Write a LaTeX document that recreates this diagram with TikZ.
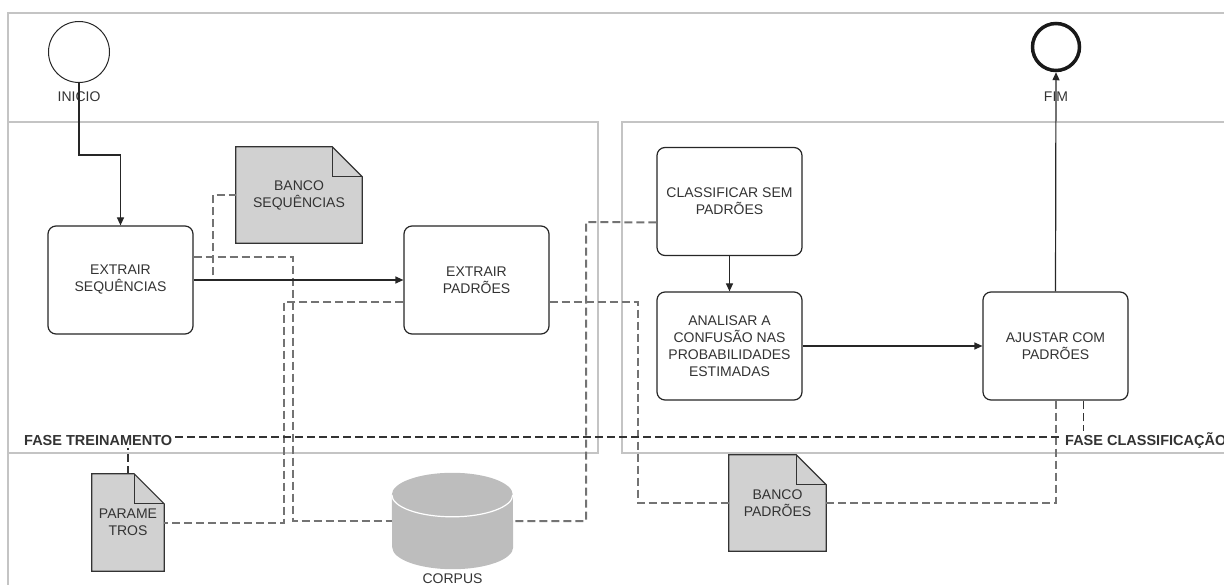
\documentclass[tikz,border=0pt]{standalone}
\usepackage{fontspec}
\setmainfont{Liberation Sans}
\usetikzlibrary{arrows.meta}

\begin{document}
\begin{tikzpicture}[x=1pt, y=-1pt, font=\fontsize{14}{17}\selectfont, text=black!80,
      >={Triangle[length=8pt,width=7pt]},
      lane/.style={draw=black!23, line width=2pt},
      tsk/.style={draw=black!85, line width=1.2pt, fill=white, rounded corners=8pt, align=center, minimum width=145pt, minimum height=108pt, inner sep=2pt},
      doc/.style={fill=black!18, align=center, inner sep=0pt},
      evt/.style={circle, draw=black!85, fill=white, line width=1pt},
      flw/.style={->, draw=black!85, line width=1.2pt},
      assoc/.style={draw=black!55, line width=2pt, dash pattern=on 8pt off 4pt},
      prm/.style={draw=black!80, line width=1.3pt, dash pattern=on 8pt off 4pt},
      phs/.style={fill=white, font=\fontsize{14.5}{17}\selectfont\bfseries, inner sep=2pt, anchor=west}]
    \useasboundingbox (0,0) rectangle (1224,585);
    \draw[lane] (8,585) -- (8,13) -- (1230,13);
    \draw[lane] (8,122) rectangle (598,453);
    \draw[lane] (1230,122) -- (622,122) -- (622,453) -- (1230,453);

    \node[evt, minimum size=61pt] (ini) at (79,52) {};
    \node[evt, minimum size=47pt, line width=3.5pt, draw=black!90] (fim) at (1056,47) {};
    \node (il) at (79,97) {INICIO};
    \node (fl) at (1056,97) {FIM};

    \node[tsk] (es) at (120.5,280) {EXTRAIR\\SEQUÊNCIAS};
    \node[tsk] (ep) at (476.5,280) {EXTRAIR\\PADRÕES};
    \node[tsk] (cs) at (729.5,201.5) {CLASSIFICAR SEM\\PADRÕES};
    \node[tsk] (an) at (729.5,346) {ANALISAR A\\CONFUSÃO NAS\\PROBABILIDADES\\ESTIMADAS};
    \node[tsk] (aj) at (1055.5,346) {AJUSTAR COM\\PADRÕES};

    \node[doc, minimum width=126pt, minimum height=96pt] (bs) at (299,195) {BANCO\\SEQUÊNCIAS};
    \node[doc, minimum width=72pt, minimum height=97pt] (pr) at (128,522.5) {PARAME\\TROS};
    \node[doc, minimum width=97pt, minimum height=96pt] (bp) at (777.5,503) {BANCO\\PADRÕES};
    \foreach \dc in {bs,pr,bp} {
      \fill[white] ([xshift=-30pt]\dc.north east) -- (\dc.north east) -- ([yshift=-30pt]\dc.north east) -- cycle;
      \draw[black!80, line width=1.2pt] (\dc.south west) -- (\dc.north west) -- ([xshift=-30pt]\dc.north east) -- ([yshift=-30pt]\dc.north east) -- (\dc.south east) -- cycle;
      \draw[black!80, line width=1.2pt] ([xshift=-30pt]\dc.north east) |- ([yshift=-30pt]\dc.north east);
    }

    \node[minimum width=121pt, minimum height=96pt, inner sep=0pt] (co) at (452.5,521) {};
    \fill[black!26] ([yshift=-22pt]co.north west) arc[start angle=180, end angle=0, x radius=60.5pt, y radius=22pt] -- ([yshift=22pt]co.south east) arc[start angle=0, end angle=-180, x radius=60.5pt, y radius=22pt] -- cycle;
    \draw[white, line width=1.2pt] ([yshift=-22pt]co.north west) arc[start angle=180, end angle=360, x radius=60.5pt, y radius=22pt];
    \node (cl) at (452.5,579) {CORPUS};

    \draw[assoc] (es.east) -- (213,280) |- (bs.west);
    \draw[assoc] ([yshift=23pt]es.east) -- (293,257) |- (co.west);
    \draw[assoc] ([yshift=-22pt]ep.west) -- (284,302) |- (pr.east);
    \draw[assoc] ([yshift=-22pt]ep.east) -- (638,302) |- (bp.west);
    \draw[assoc] ([yshift=-21pt]cs.west) -- (586,222) |- (co.east);
    \draw[assoc] (aj.south) |- (bp.east);
    \draw[prm] (pr.north) -- (128,437) -| ([xshift=28pt]aj.south);

    \draw[flw] (ini.south) -- ++(0,72) -| (es.north);
    \draw[flw] (es.east) -- (ep.west);
    \draw[flw] (cs.south) -- (an.north);
    \draw[flw] (an.east) -- (aj.west);
    \draw[flw] (aj.north) -- (fim.south);

    \node[phs] (ft) at (22,441) {FASE TREINAMENTO};
    \node[phs] (fc) at (1063,441) {FASE CLASSIFICAÇÃO};
  \end{tikzpicture}
\end{document}
